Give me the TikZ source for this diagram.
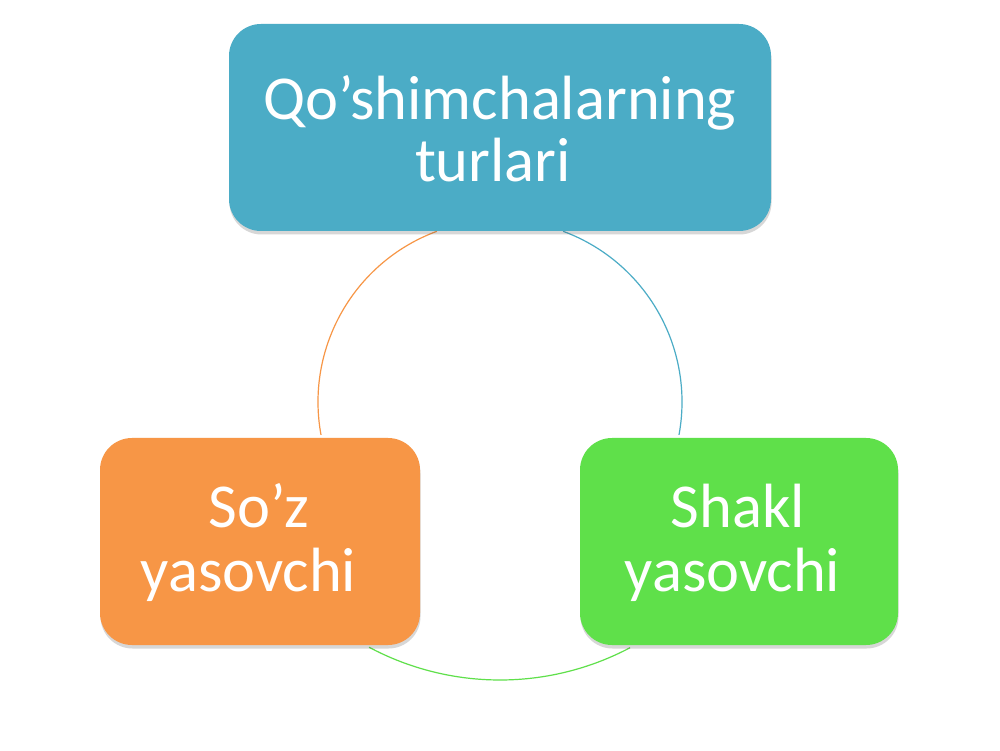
\documentclass[tikz,border=0pt]{standalone}
\usepackage{fontspec}
\setmainfont{Carlito}
\usetikzlibrary{shadows}
\definecolor{topblue}{HTML}{4BACC6}
\definecolor{soorange}{HTML}{F79646}
\definecolor{shgreen}{HTML}{5FE04A}
\tikzset{
  card/.style={rounded corners=32pt, draw=none, inner sep=0pt,
    minimum height=207pt,
    drop shadow={shadow xshift=0.5pt, shadow yshift=-3.5pt, opacity=0.22, fill=black!70}},
  lbl/.style={anchor=base, text=white, inner sep=0pt,
    font=\fontsize{62.5}{64}\selectfont},
  ring/.style={line width=1.2pt}
}
\begin{document}
\begin{tikzpicture}[x=1pt,y=1pt]
\fill[white] (0,0) rectangle (1000,750);
\useasboundingbox (0,0) rectangle (1000,750);
\coordinate (cen) at (500,348);
% connectors (arcs of the cycle)
\draw[ring, soorange] ([shift={(110.3:182pt)}]cen) arc[start angle=110.3, end angle=190.4, radius=182pt];
\draw[ring, topblue] ([shift={(69.7:182pt)}]cen) arc[start angle=69.7, end angle=-10.4, radius=182pt];
\draw[ring, shgreen] ([shift={(241.9:278pt)}]cen) arc[start angle=241.9, end angle=297.9, radius=278pt];
% boxes
\node[card, fill=topblue, minimum width=542pt] (top) at (500,622.5) {};
\node[card, fill=soorange, minimum width=320pt] (left) at (260,208.5) {};
\node[card, fill=shgreen, minimum width=318pt] (right) at (739,208.5) {};
% texts
\node[lbl] (top1) at (500,630) {Qo’shimchalarning};
\node[lbl] (top2) at (493,568) {turlari};
\node[lbl] (left1) at (259,223) {So’z};
\node[lbl] (left2) at (248.5,159) {yasovchi};
\node[lbl] (right1) at (738,223) {Shakl};
\node[lbl] (right2) at (732.5,159) {yasovchi};
\end{tikzpicture}
\end{document}
